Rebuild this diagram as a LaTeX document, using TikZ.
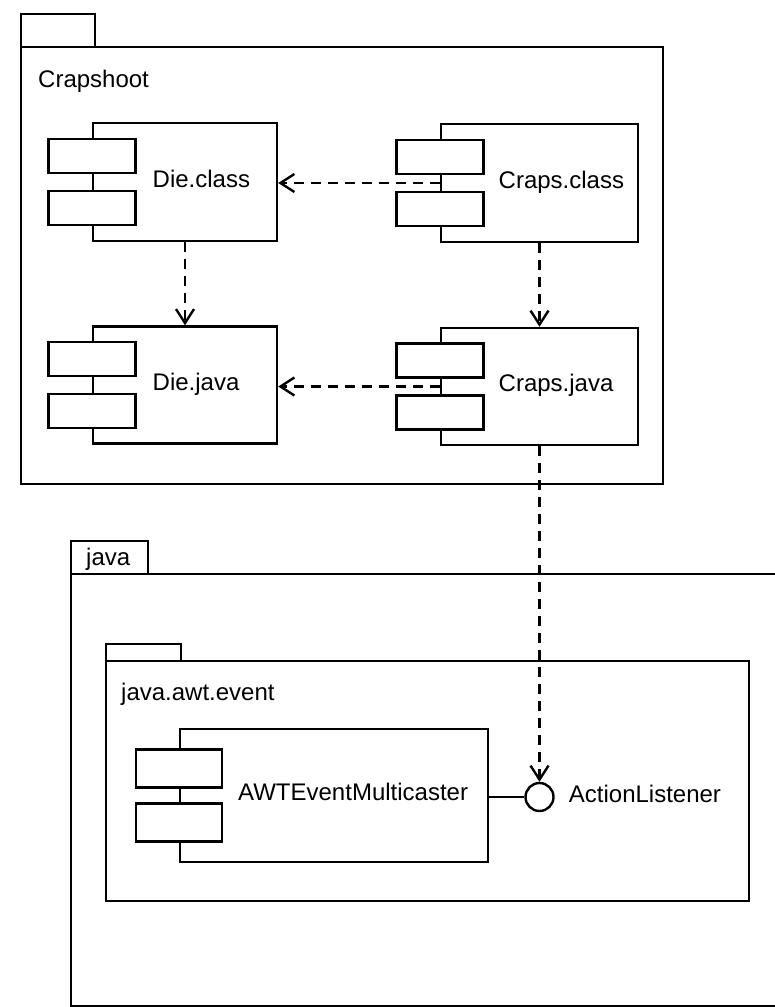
\documentclass[tikz,border=0pt]{standalone}
\usepackage{fontspec}
\setmainfont{Liberation Sans}
\usetikzlibrary{arrows.meta,positioning}

\tikzset{
	pkgbox/.style={draw, anchor=north west, inner sep=0pt},
	comp/.style={draw, fill=white, inner sep=0pt},
	port/.style={draw, fill=white, inner sep=0pt, minimum width=43.5pt, minimum height=17pt},
	lbl/.style={font=\fontsize{12}{14}\selectfont, inner sep=0pt, anchor=mid west},
	dep/.style={dash pattern=on 5pt off 3.5pt, -{Straight Barb[length=7pt,width=9pt]}},
	iface/.style={draw, fill=white, circle, inner sep=0pt, minimum size=14pt},
}

\begin{document}
\begin{tikzpicture}[x=0.5pt, y=-0.5pt, line width=1.2pt]
		\useasboundingbox (0,0) rectangle (775,1007);
		\clip (0,0) rectangle (775,1007);

		% package Crapshoot
		\node[pkgbox, minimum width=37pt, minimum height=16.5pt] (craptab) at (20,13) {};
		\node[pkgbox, minimum width=321pt, minimum height=218.5pt] (crapbody) at (20,46) {};
		\node[lbl] (craplbl) at (37,82) {Crapshoot};

		% package java
		\node[pkgbox, minimum width=38.5pt, minimum height=16.5pt] (javatab) at (70,540) {};
		\node[lbl] (javalbl) at (85,560) {java};
		\node[pkgbox, minimum width=370pt, minimum height=216pt] (javabody) at (70,573) {};

		% package java.awt.event
		\node[pkgbox, minimum width=37.5pt, minimum height=8.5pt] (awttab) at (105,643) {};
		\node[pkgbox, minimum width=321.5pt, minimum height=120pt] (awtbody) at (105,660) {};
		\node[lbl] (awtlbl) at (120,695) {java.awt.event};

		% components
		\node[comp, minimum width=92pt, minimum height=59pt] (dieclass) at (185,182) {};
		\node[port] (dieclass-a) at ([yshift=13pt]dieclass.west) {};
		\node[port] (dieclass-b) at ([yshift=-13pt]dieclass.west) {};
		\node[lbl] at ([xshift=7.5pt]dieclass.west -| dieclass-a.east) {Die.class};

		\node[comp, minimum width=92pt, minimum height=58.5pt] (diejava) at (185,385) {};
		\node[port] (diejava-a) at ([yshift=13pt]diejava.west) {};
		\node[port] (diejava-b) at ([yshift=-13pt]diejava.west) {};
		\node[lbl] at ([xshift=7.5pt]diejava.west -| diejava-a.east) {Die.java};

		\node[comp, minimum width=98.5pt, minimum height=59pt] (crapsclass) at (539.5,183) {};
		\node[port] (crapsclass-a) at ([yshift=13pt]crapsclass.west) {};
		\node[port] (crapsclass-b) at ([yshift=-13pt]crapsclass.west) {};
		\node[lbl] at ([xshift=6.5pt]crapsclass.west -| crapsclass-a.east) {Craps.class};

		\node[comp, minimum width=98.5pt, minimum height=58.5pt] (crapsjava) at (539.5,386.5) {};
		\node[port] (crapsjava-a) at ([yshift=13pt]crapsjava.west) {};
		\node[port] (crapsjava-b) at ([yshift=-13pt]crapsjava.west) {};
		\node[lbl] at ([xshift=6.5pt]crapsjava.west -| crapsjava-a.east) {Craps.java};

		\node[comp, minimum width=154pt, minimum height=66.5pt] (multicaster) at (334,795.5) {};
		\node[port, minimum width=43pt, minimum height=19pt] (multicaster-a) at ([yshift=13.5pt]multicaster.west) {};
		\node[port, minimum width=43pt, minimum height=19pt] (multicaster-b) at ([yshift=-13.5pt]multicaster.west) {};
		\node[lbl] at ([xshift=7pt]multicaster.west -| multicaster-a.east) {AWTEventMulticaster};

		% interface
		\node[iface] (listener) at (539.5,797) {};
		\node[lbl] (listenerlbl) at ([xshift=6.5pt]listener.east) {ActionListener};
		\draw (multicaster.east |- listener.west) -- (listener.west);

		% dependencies
		\draw[dep] (crapsclass.west) -- (crapsclass.west -| dieclass.east);
		\draw[dep] (crapsjava.west) -- (crapsjava.west -| diejava.east);
		\draw[dep] (dieclass.south) -- (diejava.north);
		\draw[dep] (crapsclass.south) -- (crapsjava.north);
		\draw[dep] (crapsjava.south) -- (listener.north);
	\end{tikzpicture}
\end{document}
